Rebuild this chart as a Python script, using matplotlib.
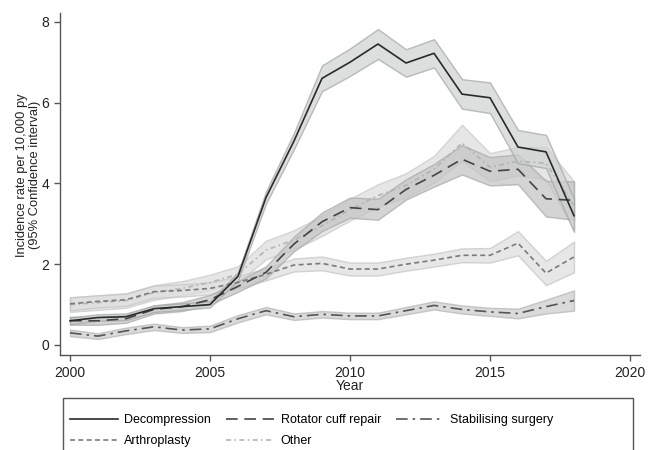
import matplotlib
matplotlib.use("Agg")
import matplotlib.pyplot as plt
from matplotlib.lines import Line2D
from matplotlib.patches import Rectangle

plt.rcParams['font.family'] = ['Liberation Sans', 'DejaVu Sans']

years = list(range(2000, 2019))

dec    = [0.60, 0.68, 0.70, 0.90, 0.95, 1.00, 1.70, 3.65, 5.05, 6.60, 7.00, 7.45, 6.98, 7.22, 6.21, 6.12, 4.90, 4.78, 3.20]
dec_lo = [0.52, 0.60, 0.62, 0.82, 0.87, 0.93, 1.60, 3.50, 4.85, 6.28, 6.66, 7.08, 6.64, 6.87, 5.85, 5.74, 4.50, 4.38, 2.80]
dec_hi = [0.68, 0.76, 0.78, 0.98, 1.03, 1.08, 1.80, 3.80, 5.25, 6.92, 7.34, 7.82, 7.32, 7.57, 6.58, 6.50, 5.32, 5.20, 3.62]

rcr    = [0.60, 0.60, 0.65, 0.88, 0.95, 1.12, 1.45, 1.80, 2.50, 3.05, 3.40, 3.35, 3.85, 4.20, 4.60, 4.30, 4.35, 3.62, 3.58]
rcr_lo = [0.50, 0.50, 0.55, 0.78, 0.84, 1.00, 1.32, 1.65, 2.32, 2.82, 3.15, 3.10, 3.60, 3.92, 4.22, 3.95, 3.98, 3.18, 3.10]
rcr_hi = [0.70, 0.70, 0.75, 0.98, 1.06, 1.24, 1.58, 1.95, 2.68, 3.28, 3.65, 3.62, 4.10, 4.48, 4.95, 4.65, 4.72, 4.06, 4.05]

stab    = [0.30, 0.22, 0.35, 0.45, 0.37, 0.40, 0.65, 0.85, 0.70, 0.76, 0.72, 0.72, 0.85, 0.98, 0.88, 0.82, 0.78, 0.95, 1.10]
stab_lo = [0.22, 0.15, 0.27, 0.37, 0.30, 0.32, 0.56, 0.76, 0.62, 0.68, 0.64, 0.64, 0.76, 0.88, 0.78, 0.72, 0.66, 0.78, 0.85]
stab_hi = [0.38, 0.29, 0.43, 0.53, 0.44, 0.48, 0.74, 0.94, 0.78, 0.84, 0.80, 0.80, 0.94, 1.08, 0.98, 0.92, 0.90, 1.12, 1.35]

art    = [1.02, 1.08, 1.12, 1.32, 1.35, 1.40, 1.55, 1.75, 1.98, 2.02, 1.88, 1.88, 2.00, 2.10, 2.22, 2.22, 2.52, 1.78, 2.18]
art_lo = [0.86, 0.93, 0.97, 1.17, 1.20, 1.25, 1.40, 1.60, 1.82, 1.85, 1.72, 1.72, 1.84, 1.94, 2.05, 2.04, 2.22, 1.48, 1.80]
art_hi = [1.18, 1.23, 1.27, 1.47, 1.50, 1.55, 1.70, 1.90, 2.14, 2.19, 2.04, 2.04, 2.16, 2.26, 2.39, 2.40, 2.82, 2.08, 2.56]

oth    = [1.00, 1.05, 1.10, 1.30, 1.40, 1.55, 1.75, 2.35, 2.60, 2.95, 3.35, 3.70, 3.95, 4.35, 5.00, 4.40, 4.55, 4.50, 3.45]
oth_lo = [0.82, 0.87, 0.92, 1.12, 1.22, 1.36, 1.55, 2.12, 2.36, 2.70, 3.08, 3.42, 3.65, 4.02, 4.55, 4.05, 4.20, 4.10, 2.85]
oth_hi = [1.18, 1.23, 1.28, 1.48, 1.58, 1.74, 1.95, 2.58, 2.84, 3.20, 3.62, 3.98, 4.25, 4.68, 5.45, 4.75, 4.90, 4.90, 4.05]

labels = ["Decompression", "Rotator cuff repair", "Stabilising surgery", "Arthroplasty", "Other"]
y_ticks = [0, 2, 4, 6, 8]
x_ticks = [2000, 2005, 2010, 2015, 2020]

W, H = 657, 450
fig = plt.figure(figsize=(W / 100, H / 100), dpi=100)
ax = fig.add_axes([60 / W, 1 - 355 / H, 580 / W, 342 / H])

style = {
    "Decompression": ('#2a2a2a', '-', '#cfd1d1', '#a2a4a4'),
    "Rotator cuff repair": ('#444444', (0, (7, 4)), '#c3c3c3', '#a8a8a8'),
    "Stabilising surgery": ('#555555', (0, (7, 3, 1.5, 3)), '#cbcbcb', '#b4b4b4'),
    "Arthroplasty": ('#7a7a7a', (0, (3, 2)), '#dedede', '#c4c4c4'),
    "Other": ('#b4b4b4', (0, (3, 2, 1, 2)), '#dcdcdc', '#c8c8c8'),
}
data = {
    "Decompression": (dec, dec_lo, dec_hi),
    "Rotator cuff repair": (rcr, rcr_lo, rcr_hi),
    "Stabilising surgery": (stab, stab_lo, stab_hi),
    "Arthroplasty": (art, art_lo, art_hi),
    "Other": (oth, oth_lo, oth_hi),
}
draw_order = ["Other", "Arthroplasty", "Stabilising surgery", "Rotator cuff repair", "Decompression"]

for k in draw_order:
    v, lo, hi = data[k]
    lc, ls, fc, ec = style[k]
    ax.fill_between(years, lo, hi, facecolor=fc, edgecolor=ec, linewidth=1.0, alpha=0.7, zorder=2)
for k in draw_order:
    v, lo, hi = data[k]
    lc, ls, fc, ec = style[k]
    ax.plot(years, v, color=lc, linestyle=ls, linewidth=1.2, zorder=3)

ax.set_xlim(2000 - 10 / 28, 2020 + 10 / 28)
ax.set_ylim(-10 / 40.4, 332 / 40.4)
ax.set_xticks(x_ticks)
ax.set_yticks(y_ticks)
ax.spines['top'].set_visible(False)
ax.spines['right'].set_visible(False)
for s in ['left', 'bottom']:
    ax.spines[s].set_color('#555555')
    ax.spines[s].set_linewidth(1.0)
ax.tick_params(axis='both', colors='#555555', labelcolor='#222222', labelsize=10, length=4.5, width=1)
ax.set_xlabel("Year", fontsize=10, color='#222222', labelpad=-1)
ax.set_ylabel("Incidence rate per 10,000 py\n(95% Confidence interval)", fontsize=9.3, color='#222222',
              linespacing=1.05)
ax.yaxis.set_label_coords(-0.033, 0.526)

# legend frame spanning the plot width
fig.patches.append(Rectangle((63 / W, -0.05), 570 / W, 0.05 + (1 - 398 / H), transform=fig.transFigure,
                             facecolor='white', edgecolor='#555555', linewidth=1.0, zorder=0))

order = ["Decompression", "Arthroplasty", "Rotator cuff repair", "Other", "Stabilising surgery"]
handles = [Line2D([], [], color=style[k][0], linestyle=style[k][1], linewidth=1.2) for k in order]
leg = fig.legend(handles, order, loc='upper left', bbox_to_anchor=(70 / W, 1 - 414 / H),
                 ncol=3, fontsize=9, frameon=False, handlelength=3.8, handletextpad=0.55,
                 columnspacing=1.2, borderpad=0, labelspacing=0.75, borderaxespad=0)

fig.savefig("out.png", dpi=100)
